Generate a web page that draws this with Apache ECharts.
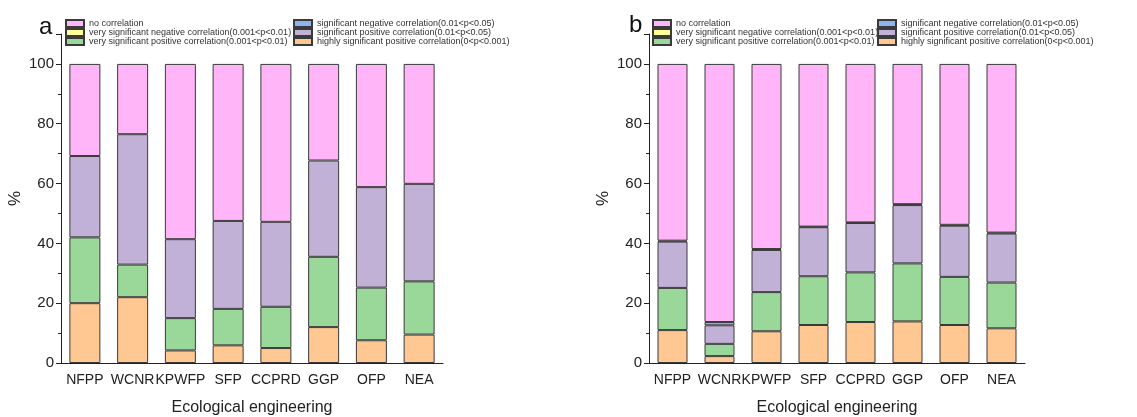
<!DOCTYPE html>
<html>
<head>
<meta charset="utf-8">
<title>Ecological engineering correlation</title>
<script src="https://cdn.jsdelivr.net/npm/echarts@6/dist/echarts.min.js"></script>
<style>
  html, body { margin: 0; padding: 0; background: #fff; }
  #main { width: 1137px; height: 417px; }
</style>
</head>
<body>
<div id="main"></div>
<script>
// 类别
var categories = ['NFPP', 'WCNR', 'KPWFP', 'SFP', 'CCPRD', 'GGP', 'OFP', 'NEA'];
var yTicks = [0, 20, 40, 60, 80, 100];

// 图a 各段百分比（从下往上堆叠）
var a_highlyPos   = [20.0, 22.0, 4.2, 5.9, 5.0, 12.0, 7.6, 9.5];
var a_veryPos     = [22.0, 10.9, 10.8, 12.2, 13.8, 23.5, 17.6, 17.8];
var a_sigPos      = [27.2, 43.6, 26.4, 29.4, 28.4, 32.2, 33.6, 32.6];
var a_sigNeg      = [0, 0, 0, 0, 0, 0, 0, 0];
var a_veryNeg     = [0, 0, 0, 0, 0, 0, 0, 0];
var a_none        = [30.8, 23.5, 58.6, 52.5, 52.8, 32.3, 41.2, 40.1];

// 图b 各段百分比
var b_highlyPos   = [11.0, 2.3, 10.6, 12.7, 13.7, 13.9, 12.7, 11.6];
var b_veryPos     = [14.1, 4.1, 13.1, 16.3, 16.6, 19.4, 16.1, 15.3];
var b_sigPos      = [15.5, 6.2, 14.1, 16.4, 16.5, 19.5, 17.1, 16.4];
var b_sigNeg      = [0.3, 1.1, 0.3, 0.2, 0.2, 0.3, 0.3, 0.3];
var b_veryNeg     = [0, 0, 0, 0, 0, 0, 0, 0];
var b_none        = [59.1, 86.3, 61.9, 54.4, 53.0, 46.9, 53.8, 56.4];

var N_NONE  = 'no correlation';
var N_VNEG  = 'very significant negative correlation(0.001<p<0.01)';
var N_VPOS  = 'very significant positive correlation(0.001<p<0.01)';
var N_SNEG  = 'significant negative correlation(0.01<p<0.05)';
var N_SPOS  = 'significant positive correlation(0.01<p<0.05)';
var N_HPOS  = 'highly significant positive correlation(0<p<0.001)';

// 堆叠顺序：从下往上
var layers = [
    {name: N_HPOS, color: '#FFC892'},
    {name: N_VPOS, color: '#9AD89A'},
    {name: N_SPOS, color: '#C2B1D7'},
    {name: N_SNEG, color: '#8DB4EE'},
    {name: N_VNEG, color: '#FFFF99'},
    {name: N_NONE, color: '#FFB5F7'}
];
var aData = [a_highlyPos, a_veryPos, a_sigPos, a_sigNeg, a_veryNeg, a_none];
var bData = [b_highlyPos, b_veryPos, b_sigPos, b_sigNeg, b_veryNeg, b_none];

var FONT = 'Liberation Sans, Arial, sans-serif';
var AX = '#222';

function mainX(gridIndex) {
    return {
        type: 'category', gridIndex: gridIndex, data: categories,
        name: 'Ecological engineering', nameLocation: 'middle', nameGap: 37,
        nameTextStyle: {fontSize: 16, color: '#222', fontFamily: FONT},
        axisLine: {lineStyle: {color: AX, width: 1}},
        axisTick: {alignWithLabel: true, length: 6, lineStyle: {color: AX}},
        axisLabel: {interval: 0, fontSize: 14, color: '#222', margin: 10, fontFamily: FONT}
    };
}
function minorX(gridIndex) {
    return {
        type: 'category', gridIndex: gridIndex, data: categories, position: 'bottom',
        axisLine: {show: false},
        axisTick: {length: 3, lineStyle: {color: AX}},
        axisLabel: {show: false}
    };
}
function mainY(gridIndex) {
    return {
        type: 'value', gridIndex: gridIndex, min: 0, max: 110, interval: 20,
        name: '%', nameLocation: 'middle', nameGap: 37,
        nameTextStyle: {fontSize: 17, color: '#222', fontFamily: FONT},
        axisLine: {show: true, lineStyle: {color: AX, width: 1}},
        axisTick: {show: true, length: 5, lineStyle: {color: AX}},
        splitLine: {show: false},
        axisLabel: {
            fontSize: 15, color: '#222', margin: 7, fontFamily: FONT,
            formatter: function (v) { return yTicks.indexOf(v) >= 0 ? String(v) : ''; }
        }
    };
}
function minorY(gridIndex) {
    return {
        type: 'value', gridIndex: gridIndex, min: 0, max: 110, interval: 10, position: 'left',
        axisLine: {show: false},
        axisTick: {show: true, length: 3, lineStyle: {color: AX}},
        splitLine: {show: false},
        axisLabel: {show: false}
    };
}

function buildSeries(dataList, axisIndex, barWidth, stackName) {
    var list = [];
    for (var i = 0; i < layers.length; i++) {
        // 0 值不画（避免出现多余的边框线）
        var vals = dataList[i].map(function (v) { return v === 0 ? '-' : v; });
        list.push({
            name: layers[i].name,
            type: 'bar',
            stack: stackName,
            xAxisIndex: axisIndex,
            yAxisIndex: axisIndex,
            barWidth: barWidth,
            itemStyle: {color: layers[i].color, borderColor: '#3a3a3a', borderWidth: 1},
            emphasis: {disabled: true},
            data: vals
        });
    }
    return list;
}

function legendCol(left, names) {
    return {
        orient: 'vertical', left: left, top: 19, padding: 0,
        itemWidth: 18, itemHeight: 7, itemGap: 0, selectedMode: false,
        icon: 'rect',
        textStyle: {fontSize: 9, lineHeight: 8, color: '#333', fontFamily: FONT},
        data: names
    };
}

var myChart = echarts.init(document.getElementById('main'), null, {renderer: 'canvas'});
var option = {
    animation: false,
    backgroundColor: '#fff',
    title: [
        {text: 'a', left: 34, top: 10, textStyle: {fontSize: 24, fontWeight: 'normal', color: '#111', fontFamily: FONT}},
        {text: 'b', left: 624, top: 8, textStyle: {fontSize: 24, fontWeight: 'normal', color: '#111', fontFamily: FONT}}
    ],
    legend: [
        legendCol(65, [N_NONE, N_VNEG, N_VPOS]),
        legendCol(293, [N_SNEG, N_SPOS, N_HPOS]),
        legendCol(652, [N_NONE, N_VNEG, N_VPOS]),
        legendCol(877, [N_SNEG, N_SPOS, N_HPOS])
    ],
    grid: [
        {left: 61, top: 34, width: 382, bottom: 54, outerBoundsMode: 'none'},
        {left: 649, top: 34, width: 376, bottom: 54, outerBoundsMode: 'none'}
    ],
    xAxis: [mainX(0), mainX(1), minorX(0), minorX(1)],
    yAxis: [mainY(0), mainY(1), minorY(0), minorY(1)],
    series: buildSeries(aData, 0, 31, 'a').concat(buildSeries(bData, 1, 30, 'b'))
};
myChart.setOption(option);
</script>
</body>
</html>
